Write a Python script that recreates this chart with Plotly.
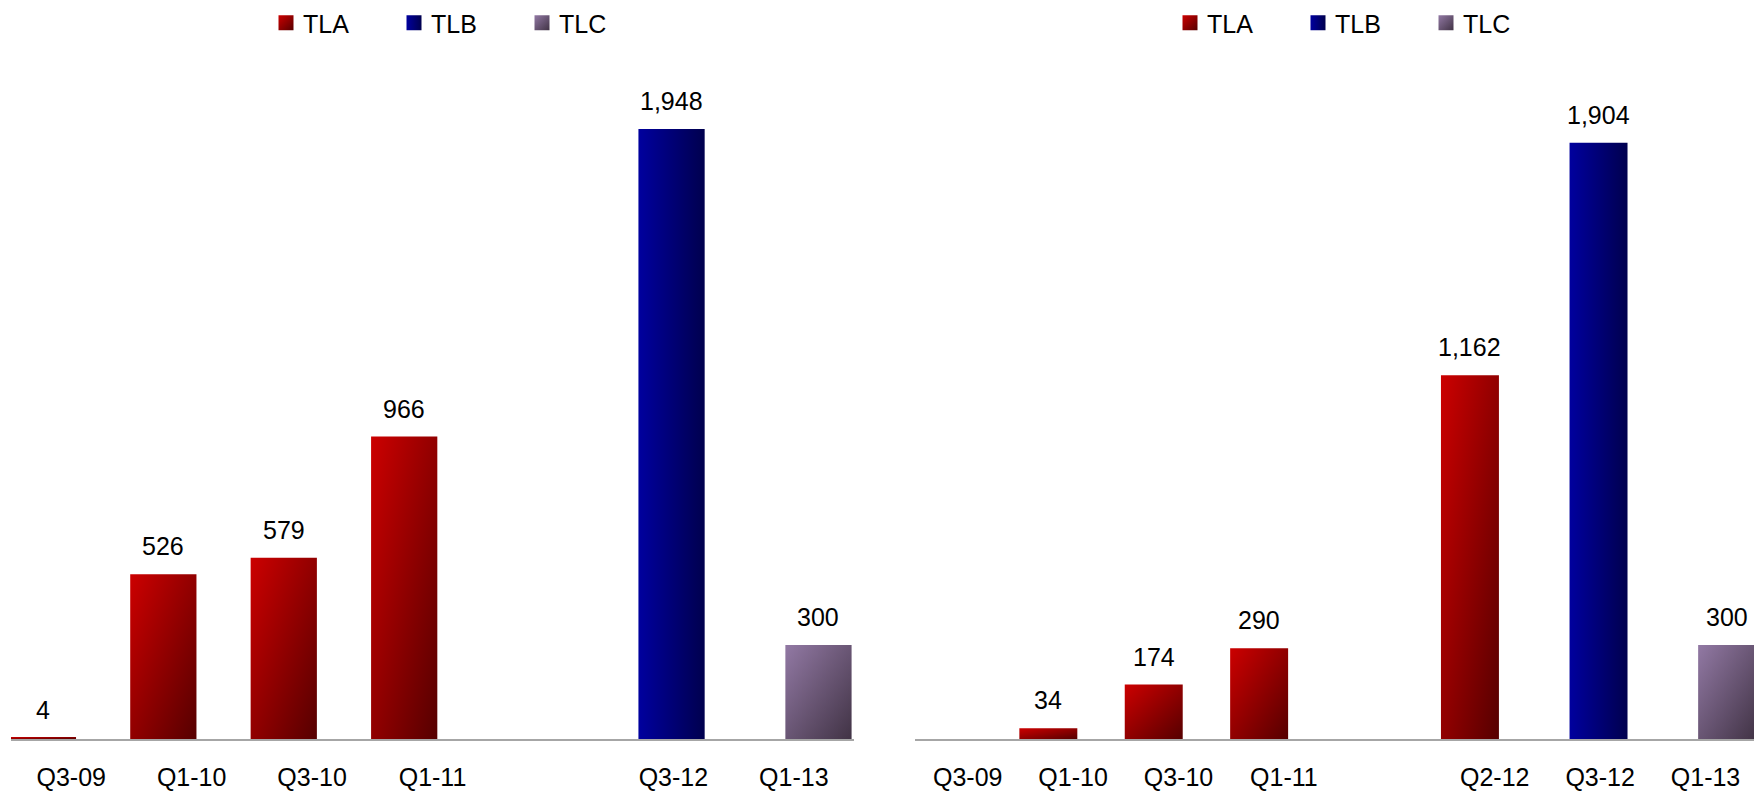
import plotly.graph_objects as go

# ---- data -----------------------------------------------------------------
series_names = ["TLA", "TLB", "TLC"]

# left panel (a blank category keeps the gap between Q1-11 and Q3-12)
left_quarters = ["Q3-09", "Q1-10", "Q3-10", "Q1-11", " ", "Q3-12", "Q1-13"]
left_tla = [4, 526, 579, 966, None, None, None]
left_tlb = [None, None, None, None, None, 1948, None]
left_tlc = [None, None, None, None, None, None, 300]

# right panel
right_quarters = ["Q3-09", "Q1-10", "Q3-10", "Q1-11", " ", "Q2-12", "Q3-12", "Q1-13"]
right_tla = [None, 34, 174, 290, None, 1162, None, None]
right_tlb = [None, None, None, None, None, None, 1904, None]
right_tlc = [None, None, None, None, None, None, None, 300]

# ---- style ----------------------------------------------------------------
FONT = "Liberation Sans, Arial, sans-serif"
FONT_SIZE = 25
BAR_WIDTH = 0.55
# overlapping series: each series is shifted a fraction of a category
BAR_OFFSET = {"TLA": -0.51, "TLB": -0.29, "TLC": -0.07}
SOLID = {"TLA": "#9a0000", "TLB": "#000080", "TLC": "#6a5878"}
AXIS_GREY = "#a6a6a6"
Y_MAX = 2360
W, H = 1754, 791

fig = go.Figure()

panels = [
    ("x", "y", "legend", left_quarters, [left_tla, left_tlb, left_tlc]),
    ("x2", "y2", "legend2", right_quarters, [right_tla, right_tlb, right_tlc]),
]

for xa, ya, leg, cats, series in panels:
    for name, vals in zip(series_names, series):
        fig.add_trace(go.Bar(
            x=cats, y=vals, name=name,
            xaxis=xa, yaxis=ya, legend=leg,
            width=BAR_WIDTH, offset=BAR_OFFSET[name],
            marker=dict(color=SOLID[name], line=dict(width=0)),
            hoverinfo="skip",
        ))
        # value labels above each bar
        for i, v in enumerate(vals):
            if v is None:
                continue
            fig.add_annotation(
                x=i + BAR_OFFSET[name] + BAR_WIDTH / 2, y=v,
                xref=xa, yref=ya, text=f"{v:,}", showarrow=False,
                yanchor="bottom", yshift=12,
                font=dict(family=FONT, size=FONT_SIZE, color="#000000"),
            )

axis_common = dict(
    type="category", showgrid=False, zeroline=False, showline=True,
    linecolor=AXIS_GREY, linewidth=2, ticks="", ticklabelstandoff=15,
    tickfont=dict(family=FONT, size=FONT_SIZE, color="#000000"),
    fixedrange=True,
)
yaxis_common = dict(range=[0, Y_MAX], visible=False, showgrid=False,
                    zeroline=False, fixedrange=True)

legend_common = dict(
    orientation="h", yanchor="top", y=1.0, xanchor="left",
    font=dict(family=FONT, size=FONT_SIZE, color="#000000"),
    bgcolor="rgba(0,0,0,0)", itemwidth=30, entrywidth=83,
    traceorder="normal",
)

fig.update_layout(
    width=W, height=H,
    margin=dict(l=0, r=0, t=0, b=52, pad=0),
    paper_bgcolor="white", plot_bgcolor="white",
    barmode="overlay", showlegend=True,
    xaxis=dict(axis_common, domain=[11 / W, 854 / W], range=[-0.5, 6.5],
               categoryorder="array", categoryarray=left_quarters, anchor="y"),
    xaxis2=dict(axis_common, domain=[915 / W, 1.0], range=[-0.5, 7.46],
                categoryorder="array", categoryarray=right_quarters, anchor="y2"),
    yaxis=dict(yaxis_common, anchor="x"),
    yaxis2=dict(yaxis_common, anchor="x2"),
    legend=dict(legend_common, x=263 / W),
    legend2=dict(legend_common, x=1167 / W),
)

# diagonal gradient fills for the bars and legend swatches
post_script = r"""
var gd = document.getElementById('{plot_id}');
var NS = 'http://www.w3.org/2000/svg';
var fills = {
  TLA: ['#cc0000', '#560000', 1, 1],
  TLB: ['#00009e', '#00004e', 1, 0],
  TLC: ['#9279a4', '#413345', 1, 1]
};
function paint() {
  var svg = gd.querySelector('svg.main-svg');
  var defs = svg.querySelector('defs');
  Object.keys(fills).forEach(function (k) {
    if (document.getElementById('grad-' + k)) return;
    var f = fills[k];
    var g = document.createElementNS(NS, 'linearGradient');
    g.setAttribute('id', 'grad-' + k);
    g.setAttribute('x1', '0'); g.setAttribute('y1', '0');
    g.setAttribute('x2', String(f[2])); g.setAttribute('y2', String(f[3]));
    [[0, f[0]], [1, f[1]]].forEach(function (s) {
      var st = document.createElementNS(NS, 'stop');
      st.setAttribute('offset', String(s[0]));
      st.setAttribute('stop-color', s[1]);
      g.appendChild(st);
    });
    defs.appendChild(g);
  });
  gd.querySelectorAll('.barlayer .trace').forEach(function (t) {
    var name = t.__data__[0].trace.name;
    t.querySelectorAll('path').forEach(function (p) {
      p.style.fill = 'url(#grad-' + name + ')';
    });
  });
  gd.querySelectorAll('.infolayer g.traces').forEach(function (t) {
    var name = t.__data__[0].trace.name;
    t.querySelectorAll('.legendpoints path').forEach(function (p) {
      p.setAttribute('d', 'M10.5,7.5H-4.5V-7.5H10.5Z');
      p.style.fill = 'url(#grad-' + name + ')';
    });
  });
}
paint();
gd.on('plotly_afterplot', paint);
"""

fig.write_html("out.html", post_script=post_script, config={"displayModeBar": False})
